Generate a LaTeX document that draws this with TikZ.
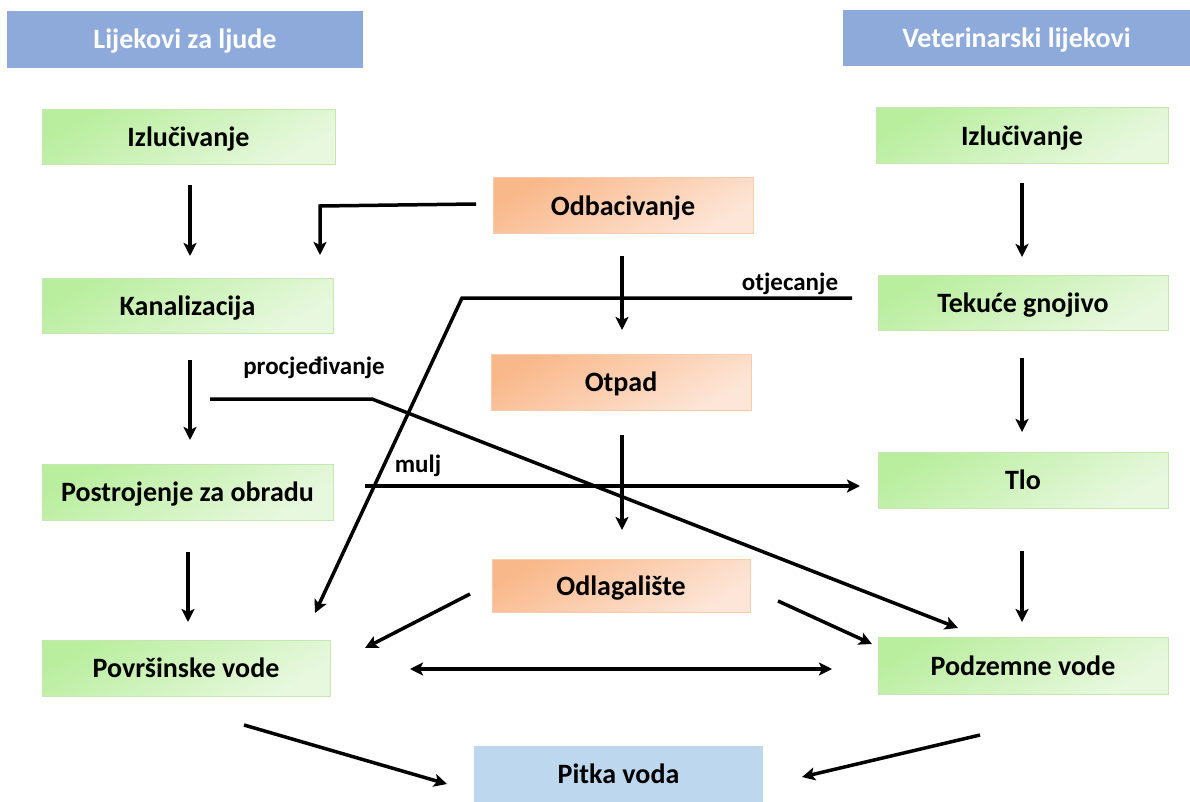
\documentclass[tikz,border=0pt]{standalone}
\usepackage{fontspec}
\setmainfont{Carlito}
\usetikzlibrary{arrows.meta,calc}
\definecolor{hdr}{HTML}{8EAADB}
\definecolor{gA}{HTML}{B9EE9E}
\definecolor{gB}{HTML}{E8F8DF}
\definecolor{gD}{HTML}{C8E6B4}
\definecolor{oA}{HTML}{F9B88A}
\definecolor{oB}{HTML}{FDE6D8}
\definecolor{oD}{HTML}{F8CBAD}
\definecolor{pit}{HTML}{BDD7EE}
\tikzset{
  base/.style={font=\fontsize{28}{32}\selectfont\bfseries, inner sep=0pt, align=center, text height=19pt, text depth=0pt},
  hbox/.style={base, fill=hdr, text=white},
  gbox/.style={base, draw=gD, line width=1pt, top color=gA, bottom color=gB, shading angle=30},
  obox/.style={base, draw=oD, line width=1pt, top color=oA, bottom color=oB, shading angle=30},
  pbox/.style={base, fill=pit},
  arr/.style={line width=3.5pt, -{Stealth[length=13pt,width=13pt,inset=3pt]}},
  darr/.style={line width=3.5pt, {Stealth[length=13pt,width=13pt,inset=3pt]}-{Stealth[length=13pt,width=13pt,inset=3pt]}},
  lbl/.style={font=\fontsize{25}{29}\selectfont\bfseries, inner sep=0pt}
}
\begin{document}
\begin{tikzpicture}[x=1pt,y=-1pt]
\useasboundingbox (0,0) rectangle (1190,802);
\node[hbox, minimum width=356pt, minimum height=57pt] (h1) at (185,39.5) {Lijekovi za ljude};
\node[hbox, minimum width=347pt, minimum height=56pt] (h2) at (1016.5,38) {Veterinarski lijekovi};
\node[gbox, minimum width=293pt, minimum height=55pt] (izl1) at (188.5,137.5) {Izlučivanje};
\node[gbox, minimum width=292pt, minimum height=56pt] (izl2) at (1022,136) {Izlučivanje};
\node[obox, minimum width=260pt, minimum height=56pt] (odb) at (623,206) {Odbacivanje};
\node[gbox, minimum width=291pt, minimum height=55pt] (kan) at (187.5,305.5) {Kanalizacija};
\node[gbox, minimum width=290pt, minimum height=55pt] (tek) at (1023,302.5) {Tekuće gnojivo};
\node[obox, minimum width=260pt, minimum height=56pt] (otp) at (621,382) {Otpad};
\node[gbox, minimum width=291pt, minimum height=56pt] (post) at (187.5,492) {Postrojenje za obradu};
\node[gbox, minimum width=290pt, minimum height=56pt] (tlo) at (1023,480) {Tlo};
\node[obox, minimum width=258pt, minimum height=53pt] (odl) at (621,585.5) {Odlagalište};
\node[gbox, minimum width=288pt, minimum height=56pt] (pov) at (186,668) {Površinske vode};
\node[gbox, minimum width=290pt, minimum height=57pt] (pod) at (1023,665.5) {Podzemne vode};
\node[pbox, minimum width=289pt, minimum height=56pt] (pit) at (618.5,774) {Pitka voda};

% vertical arrows left
\draw[arr] (190,185) -- (190,256);
\draw[arr] (190,360) -- (190,440);
\draw[arr] (188,552) -- (188,622);
% vertical arrows right
\draw[arr] (1022,183) -- (1022,257);
\draw[arr] (1022,358) -- (1022,432);
\draw[arr] (1022,551) -- (1022,622);
% center
\draw[arr] (622,256) -- (622,330);
\draw[arr] (622,435) -- (622,530);
% Odbacivanje -> Kanalizacija
\coordinate (o1) at (476,204);
\draw[arr] (o1) -- (320,206) -- (320,255);
% otjecanje
\coordinate (t1) at (852,298);
\draw[arr] (t1) -- (462,298) -- (315,613);
\node[lbl, anchor=base] (lotj) at (790,290) {otjecanje};
% procjedivanje
\coordinate (p1) at (210,399);
\draw[arr] (p1) -- (372,399) -- (958,628);
\node[lbl, anchor=base] (lpro) at (314,374) {procjeđivanje};
% mulj
\coordinate (m1) at (365,486);
\draw[arr] (m1) -- (860,486);
\node[lbl, anchor=base] (lmul) at (418,472) {mulj};
% Odlagaliste -> vode
\draw[arr] (470,594) -- (365,648);
\draw[arr] (778,601) -- (872,644);
\draw[darr] (410,669) -- (832,669);
% -> Pitka voda
\draw[arr] (244,725) -- (447,784);
\draw[arr] (980,735) -- (802,777);
\end{tikzpicture}
\end{document}
